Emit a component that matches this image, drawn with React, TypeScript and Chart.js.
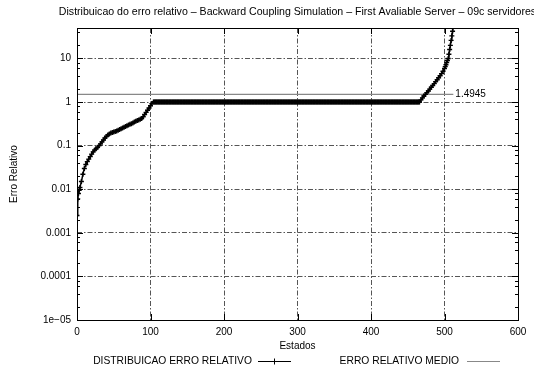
import React, { useEffect, useRef } from "react";
import { Chart, registerables } from "chart.js";

Chart.register(...registerables);

const TITLE = "Distribuicao do erro relativo \u2013 Backward Coupling Simulation \u2013 First Avaliable Server \u2013 09c servidores";
const X_TITLE = "Estados";
const Y_TITLE = "Erro Relativo";
const LEGEND_CURVE = "DISTRIBUICAO ERRO RELATIVO";
const LEGEND_MEAN = "ERRO RELATIVO MEDIO";

const headStates = [0, 1, 2, 3, 4, 6, 8, 10, 12, 14, 16, 18, 20, 22, 24, 26, 28, 30, 32, 34, 36, 38, 40, 42, 44, 46, 48, 50, 52, 54, 56, 58, 60, 62, 64, 66, 68, 70, 72, 74, 76, 78, 80, 82, 84, 86, 88, 90, 92, 94, 96, 98, 100, 102, 104];
const headValues = [0.0025, 0.006, 0.008, 0.0095, 0.011, 0.015, 0.022, 0.03, 0.037, 0.043, 0.049, 0.056, 0.064, 0.072, 0.079, 0.085, 0.092, 0.1, 0.11, 0.122, 0.135, 0.15, 0.163, 0.175, 0.186, 0.195, 0.201, 0.206, 0.211, 0.217, 0.225, 0.234, 0.244, 0.253, 0.264, 0.275, 0.287, 0.298, 0.308, 0.318, 0.332, 0.347, 0.362, 0.377, 0.388, 0.402, 0.42, 0.46, 0.52, 0.58, 0.65, 0.73, 0.82, 0.92, 1];
// run of equal values (the long plateau at 1)
const flatFrom = 105;
const flatTo = 466;
const flatValue = 1;
const tailStates = [468, 470, 472, 474, 476, 478, 480, 482, 484, 486, 488, 490, 492, 494, 496, 498, 500, 501, 502, 503, 504, 505, 506, 507, 508, 509, 510, 511, 512];
const tailValues = [1.12, 1.25, 1.38, 1.5, 1.65, 1.8, 1.98, 2.18, 2.4, 2.65, 2.95, 3.25, 3.6, 4.0, 4.5, 5.1, 5.9, 6.5, 7.2, 8.1, 9.0, 10, 12.5, 16, 20, 26, 33, 42, 55];

const meanValue = 1.4945;
const meanStates = [0, 512];

const yTickValues = [1e-5, 1e-4, 1e-3, 1e-2, 1e-1, 1, 10];
const yTickLabels = ["1e\u221205", "0.0001", "0.001", "0.01", "0.1", "1", "10"];
const xTickValues = [0, 100, 200, 300, 400, 500, 600];

const FONT = '"Liberation Sans", Arial, Helvetica, sans-serif';

function buildCurve() {
  const pts: { x: number; y: number }[] = [];
  headStates.forEach((s, i) => pts.push({ x: s, y: headValues[i] }));
  for (let s = flatFrom; s <= flatTo; s++) pts.push({ x: s, y: flatValue });
  tailStates.forEach((s, i) => pts.push({ x: s, y: tailValues[i] }));
  return pts;
}

const decorPlugin = {
  id: "decor",
  afterDraw(chart: any) {
    const { ctx, chartArea: a, scales } = chart;
    const xs = scales.x;
    const ys = scales.y;
    ctx.save();
    ctx.setLineDash([]);
    ctx.strokeStyle = "#000";
    ctx.lineWidth = 1;
    // frame
    ctx.strokeRect(a.left + 0.5, a.top + 0.5, a.right - a.left, a.bottom - a.top);
    // x ticks inward
    ctx.beginPath();
    xTickValues.forEach((v) => {
      const px = Math.round(xs.getPixelForValue(v)) + 0.5;
      ctx.moveTo(px, a.bottom);
      ctx.lineTo(px, a.bottom - 6);
      ctx.moveTo(px, a.top);
      ctx.lineTo(px, a.top + 6);
    });
    // y major ticks
    yTickValues.forEach((v) => {
      const py = Math.round(ys.getPixelForValue(v)) + 0.5;
      ctx.moveTo(a.left, py);
      ctx.lineTo(a.left + 6, py);
      ctx.moveTo(a.right, py);
      ctx.lineTo(a.right - 6, py);
    });
    // y minor ticks
    yTickValues.forEach((v) => {
      [2, 4, 6, 8].forEach((m) => {
        const val = v * m;
        if (val > ys.max) return;
        const py = Math.round(ys.getPixelForValue(val)) + 0.5;
        ctx.moveTo(a.left, py);
        ctx.lineTo(a.left + 3, py);
        ctx.moveTo(a.right, py);
        ctx.lineTo(a.right - 3, py);
      });
    });
    ctx.stroke();

    // texts
    ctx.fillStyle = "#000";
    ctx.textAlign = "center";
    ctx.textBaseline = "middle";
    const cx = (a.left + a.right) / 2;
    ctx.font = "10.6px " + FONT;
    ctx.fillText(TITLE, cx, 12);
    ctx.font = "10px " + FONT;
    ctx.fillText(X_TITLE, cx, 346);
    ctx.save();
    ctx.translate(14, (a.top + a.bottom) / 2);
    ctx.rotate(-Math.PI / 2);
    ctx.fillText(Y_TITLE, 0, 0);
    ctx.restore();

    // legend
    const ly = 361;
    ctx.font = "10.3px " + FONT;
    ctx.textAlign = "right";
    ctx.fillText(LEGEND_CURVE, 252, ly);
    ctx.fillText(LEGEND_MEAN, 459, ly);
    ctx.beginPath();
    ctx.strokeStyle = "#000";
    ctx.moveTo(258, ly + 0.5);
    ctx.lineTo(291, ly + 0.5);
    ctx.moveTo(274.5, ly - 2.5);
    ctx.lineTo(274.5, ly + 3.5);
    ctx.moveTo(271.5, ly + 0.5);
    ctx.lineTo(277.5, ly + 0.5);
    ctx.stroke();
    ctx.beginPath();
    ctx.strokeStyle = "#888";
    ctx.lineWidth = 1.2;
    ctx.moveTo(467, ly + 0.5);
    ctx.lineTo(500, ly + 0.5);
    ctx.stroke();

    // mean label
    ctx.font = "10px " + FONT;
    ctx.textAlign = "left";
    ctx.fillStyle = "#000";
    const mx = xs.getPixelForValue(meanStates[1]);
    const my = ys.getPixelForValue(meanValue);
    ctx.fillText(meanValue.toFixed(4), mx + 2, my);
    ctx.restore();
  },
};

export default function App() {
  const ref = useRef<HTMLCanvasElement | null>(null);
  useEffect(() => {
    document.body.style.margin = "0";
    const canvas = ref.current!;
    const chart = new Chart(canvas, {
      type: "scatter",
      data: {
        datasets: [
          {
            label: LEGEND_MEAN,
            data: meanStates.map((s) => ({ x: s, y: meanValue })),
            showLine: true,
            borderColor: "#888",
            borderWidth: 1.2,
            pointRadius: 0,
            order: 2,
          },
          {
            label: LEGEND_CURVE,
            data: buildCurve(),
            showLine: true,
            borderColor: "#000",
            borderWidth: 1.5,
            pointStyle: "cross",
            pointRadius: 2.5,
            pointBorderColor: "#000",
            pointBorderWidth: 1.4,
            order: 1,
          },
        ],
      },
      plugins: [decorPlugin],
      options: {
        responsive: false,
        animation: false,
        devicePixelRatio: 1,
        events: [],
        layout: { padding: { top: 28, right: 16, left: 0, bottom: 0 } },
        plugins: {
          legend: { display: false },
          title: { display: false },
          tooltip: { enabled: false },
        },
        scales: {
          x: {
            type: "linear",
            min: 0,
            max: 600,
            afterFit: (s: any) => {
              s.height = 56;
            },
            afterBuildTicks: (s: any) => {
              s.ticks = xTickValues.map((v) => ({ value: v }));
            },
            ticks: {
              padding: 6,
              color: "#000",
              font: { family: FONT, size: 10 },
              callback: (v: any) => String(v),
            },
            grid: { color: "#555", lineWidth: 1, drawTicks: false },
            border: { display: false, dash: [5, 2, 1.5, 2] },
          },
          y: {
            type: "logarithmic",
            min: 1e-5,
            max: 50,
            afterFit: (s: any) => {
              s.width = 77;
            },
            afterBuildTicks: (s: any) => {
              s.ticks = yTickValues.map((v) => ({ value: v }));
            },
            ticks: {
              padding: 6,
              color: "#000",
              font: { family: FONT, size: 10 },
              callback: (_v: any, i: number) => yTickLabels[i],
            },
            grid: { color: "#555", lineWidth: 1, drawTicks: false },
            border: { display: false, dash: [5, 2, 1.5, 2] },
          },
        },
      },
    });
    return () => chart.destroy();
  }, []);
  return <canvas ref={ref} width={534} height={376} style={{ display: "block" }} />;
}
